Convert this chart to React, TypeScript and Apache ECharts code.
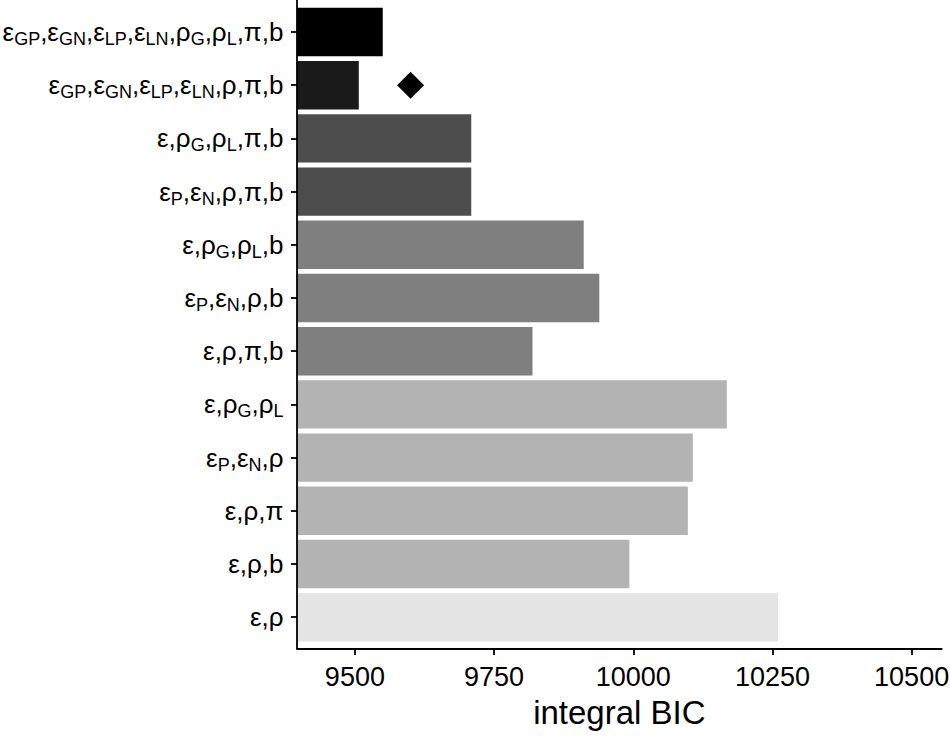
import React, { useEffect, useRef } from "react";
import * as echarts from "echarts";

// Model labels, top to bottom ("_{..}" marks a subscript)
const categories = [
  "ε_{GP},ε_{GN},ε_{LP},ε_{LN},ρ_{G},ρ_{L},π,b",
  "ε_{GP},ε_{GN},ε_{LP},ε_{LN},ρ,π,b",
  "ε,ρ_{G},ρ_{L},π,b",
  "ε_{P},ε_{N},ρ,π,b",
  "ε,ρ_{G},ρ_{L},b",
  "ε_{P},ε_{N},ρ,b",
  "ε,ρ,π,b",
  "ε,ρ_{G},ρ_{L}",
  "ε_{P},ε_{N},ρ",
  "ε,ρ,π",
  "ε,ρ,b",
  "ε,ρ",
];

// integral BIC per model
const bicValues = [9550, 9507, 9709, 9709, 9911, 9939, 9819, 10168, 10107, 10098, 9993, 10260];

// best model marker
const diamondCategory = categories[1];
const diamondValue = 9600;

const xTicks = [9500, 9750, 10000, 10250, 10500];
const xMin = 9396;
const xMax = 10554;

// grey level per bar
const barColors = [
  "#000000", "#1a1a1a", "#4d4d4d", "#4d4d4d", "#7f7f7f", "#7f7f7f",
  "#7f7f7f", "#b3b3b3", "#b3b3b3", "#b3b3b3", "#b3b3b3", "#e5e5e5",
];

const FONT = "Liberation Sans, Arial, sans-serif";

function toRich(label: string): string {
  return label
    .split(/(_\{[^}]*\})/)
    .filter((p) => p.length > 0)
    .map((p) => (p.startsWith("_{") ? `{s|${p.slice(2, -1)}}` : `{m|${p}}`))
    .join("");
}

export default function App() {
  const ref = useRef<HTMLDivElement>(null);
  useEffect(() => {
    if (!ref.current) return;
    const chart = echarts.init(ref.current, undefined, { renderer: "svg" });
    chart.setOption({
      animation: false,
      backgroundColor: "#ffffff",
      grid: {
        left: 297,
        right: 8.3,
        top: 5.4,
        bottom: 93.2,
        containLabel: false,
        outerBoundsMode: "none",
      },
      xAxis: {
        type: "value",
        min: xMin,
        max: xMax,
        offset: 5.2,
        name: "integral BIC",
        nameLocation: "middle",
        nameGap: 47,
        nameTextStyle: { fontSize: 33, color: "#000", fontFamily: FONT },
        axisLine: { show: true, lineStyle: { color: "#000", width: 1.8 } },
        axisTick: { show: true, length: 6, customValues: xTicks, lineStyle: { color: "#000", width: 1.8 } },
        axisLabel: {
          customValues: xTicks,
          formatter: (v: number) => String(v),
          fontSize: 27,
          color: "#000",
          fontFamily: FONT,
          margin: 14,
        },
        splitLine: { show: false },
      },
      yAxis: {
        type: "category",
        data: categories,
        inverse: true,
        axisLine: { show: false },
        axisTick: { show: true, length: 6, alignWithLabel: true, lineStyle: { color: "#000", width: 1.8 } },
        axisLabel: {
          margin: 13.5,
          formatter: (v: string) => toRich(v),
          rich: {
            m: { fontSize: 26, fontFamily: FONT, color: "#000", lineHeight: 32 },
            s: { fontSize: 18, fontFamily: FONT, color: "#000", lineHeight: 18, verticalAlign: "bottom" },
          },
        },
        splitLine: { show: false },
      },
      graphic: [
        {
          type: "line",
          shape: { x1: 297, y1: 0, x2: 297, y2: 649 },
          style: { stroke: "#000", lineWidth: 1.8 },
          z: 100,
        },
      ],
      series: [
        {
          type: "bar",
          barCategoryGap: "9%",
          data: bicValues.map((v, i) => ({ value: v, itemStyle: { color: barColors[i] } })),
        },
        {
          type: "scatter",
          symbol: "diamond",
          symbolSize: 27,
          itemStyle: { color: "#000", opacity: 1 },
          data: [[diamondValue, diamondCategory]],
          z: 5,
        },
      ],
    });
    return () => chart.dispose();
  }, []);
  return <div ref={ref} style={{ width: 950, height: 737, position: "absolute", left: 0, top: 0 }} />;
}
